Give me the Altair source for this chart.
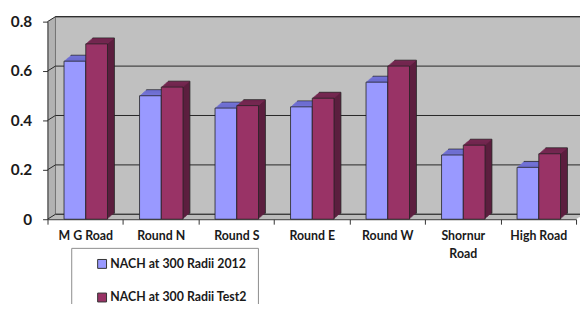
import altair as alt
import pandas as pd

categories = ["M G Road", "Round N", "Round S", "Round E", "Round W", "Shornur Road", "High Road"]
series_names = ["NACH at 300 Radii 2012", "NACH at 300 Radii Test2"]
values_2012 = [0.64, 0.50, 0.45, 0.455, 0.555, 0.26, 0.21]
values_test2 = [0.71, 0.535, 0.46, 0.49, 0.62, 0.30, 0.265]
y_ticks = [0, 0.2, 0.4, 0.6, 0.8]

W, H = 535, 200
BW = 22
FONT = "Lato"

df_a = pd.DataFrame({"category": categories, "series": series_names[0], "value": values_2012})
df_b = pd.DataFrame({"category": categories, "series": series_names[1], "value": values_test2})
df_ticks = pd.DataFrame({"tick": y_ticks})
df_one = pd.DataFrame({"a": [0]})

yscale = alt.Scale(domain=[0, 0.8], nice=False)

x_enc = alt.X(
    "category:N", sort=categories, title=None,
    scale=alt.Scale(paddingInner=0, paddingOuter=0),
    axis=alt.Axis(
        labelAngle=0, labelFont=FONT, labelFontWeight="bold", labelFontSize=12.5,
        labelColor="#1a1a1a", tickBand="extent", tickSize=5, tickColor="#333",
        domainColor="#333", labelPadding=6, labelLineHeight=18, grid=False, zindex=1,
        labelExpr="datum.label == 'Shornur Road' ? ['Shornur', 'Road'] : datum.label",
    ),
)
y_axis = alt.Axis(
    values=y_ticks, format="~g", labelFont=FONT, labelFontWeight="bold", labelFontSize=15.5,
    labelColor="#1a1a1a", tickSize=5, tickColor="#333", domainColor="#333",
    labelPadding=11, grid=False, zindex=1,
)
y_enc = alt.Y("value:Q", scale=yscale, title=None, axis=y_axis)


def ydat(v):
    return alt.YDatum(v, type="quantitative", scale=yscale, title=None)


layers = []

# back wall
layers.append(
    alt.Chart(df_one).mark_rect(
        xOffset=8, x2Offset=8, yOffset=-5, y2Offset=-5,
        fill="#C0C0C0", stroke="#333", strokeWidth=1,
    ).encode(x=alt.value(0), x2=alt.value(W), y=ydat(0.8), y2=alt.Y2Datum(0))
)
# left side wall
for j in range(8):
    off = -5 * (j + 0.5) / 8
    layers.append(
        alt.Chart(df_one).mark_rule(
            color="#A4A4A4", strokeWidth=1.2, yOffset=off, y2Offset=off
        ).encode(x=alt.value(j + 0.5), y=ydat(0.8), y2=alt.Y2Datum(0))
    )
# floor
for j in range(5):
    dx = 8 * (j + 0.5) / 5
    layers.append(
        alt.Chart(df_one).mark_rule(
            color="#ABABAB", strokeWidth=1.2, yOffset=-(j + 0.5), xOffset=dx, x2Offset=dx
        ).encode(x=alt.value(0), x2=alt.value(W), y=ydat(0))
    )
# back wall gridlines
layers.append(
    alt.Chart(df_ticks).mark_rule(
        xOffset=8, x2Offset=8, yOffset=-5, color="#262626", strokeWidth=1
    ).encode(x=alt.value(0), x2=alt.value(W), y=alt.Y("tick:Q", scale=yscale, title=None))
)
# side-wall connectors
layers.append(
    alt.Chart(df_ticks).mark_rule(y2Offset=-5, color="#262626", strokeWidth=1).encode(
        x=alt.value(0), x2=alt.value(8),
        y=alt.Y("tick:Q", scale=yscale, title=None), y2=alt.Y2("tick:Q"),
    )
)

color_enc = alt.Color(
    "series:N",
    scale=alt.Scale(domain=series_names, range=["#9999FF", "#993366"]),
    legend=alt.Legend(
        title=None, orient="none", legendX=24, legendY=229, direction="vertical",
        symbolType="square", symbolSize=81, symbolStrokeColor="#333", symbolStrokeWidth=1,
        labelFont=FONT, labelFontWeight="bold", labelFontSize=12.5, labelColor="#1a1a1a",
        rowPadding=20, padding=10, strokeColor="#8c8c8c", fillColor="white",
        symbolOffset=15, labelOffset=2,
    ),
)


def bar_layers(data, off, top, side):
    base = alt.Chart(data)
    out = []
    out.append(
        base.mark_bar(
            width=BW, xOffset=off + 7, yOffset=-6, y2Offset=-6,
            color=side, stroke="#222", strokeWidth=0.8,
        ).encode(x=x_enc, y=y_enc)
    )
    for k in range(6, 0, -1):
        dy = k * 6 / 7
        out.append(
            base.mark_bar(width=BW, xOffset=off + k, yOffset=-dy, y2Offset=-dy, color=side)
            .encode(x=x_enc, y=y_enc)
        )
    for k in range(7):
        yt = min((k + 1) * 6 / 7, 5.5)
        yb = k * 6 / 7
        out.append(
            base.mark_bar(width=BW, xOffset=off + k + 0.5, yOffset=-yt, y2Offset=-yb, color=top)
            .encode(x=x_enc, y=y_enc, y2=alt.Y2("value:Q"))
        )
    out.append(
        base.mark_bar(width=BW, xOffset=off, stroke="#222", strokeWidth=0.8)
        .encode(x=x_enc, y=y_enc, color=color_enc)
    )
    return out


layers += bar_layers(df_a, -10.5, "#7777DD", "#5555AA")
layers += bar_layers(df_b, 11.5, "#7A2A55", "#5C1F3F")

chart = alt.layer(*layers).properties(
    width=W, height=H, autosize="none",
    padding={"left": 40, "top": 12, "right": 4, "bottom": 84},
).configure_view(strokeWidth=0)

chart.save("out.html", embed_options={"renderer": "svg", "actions": False})
